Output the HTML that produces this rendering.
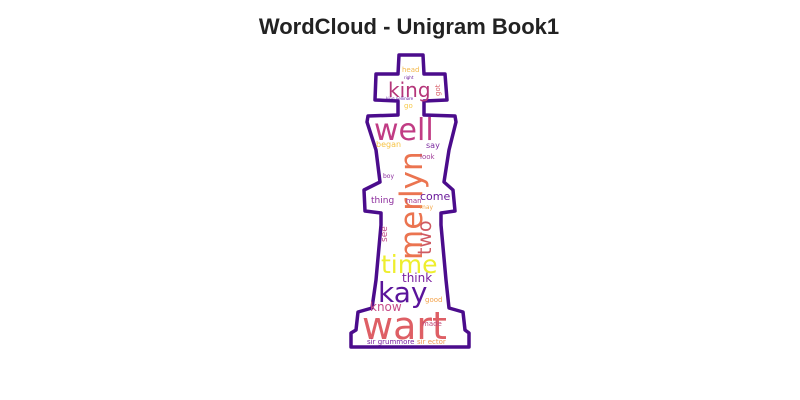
<!DOCTYPE html>
<html><head><meta charset="utf-8"><style>
html,body{margin:0;padding:0;background:#fff;width:800px;height:400px;overflow:hidden}
svg{display:block}
text{font-family:"DejaVu Sans","Liberation Sans",sans-serif}
</style></head><body>
<svg width="800" height="400" viewBox="0 0 800 400">
<text x="409" y="34" text-anchor="middle" font-weight="bold" font-size="22" fill="#222" style="font-family:'Liberation Sans',sans-serif">WordCloud - Unigram Book1</text>
<path fill="#fff" stroke="#4b0c8c" stroke-width="3.5" stroke-linejoin="round"
d="M399,55 L423,55 L424,74 L445,74 L447,100 L424,101 L424,115 L455,116 L456,122 L449,150 L444,182 L453,190 L455,211 L441,213 L441,225 L446,280 L449,308 L463,312 L465,330 L469,333 L469,347 L351,347 L351,333 L356,330 L358,312 L372,308 L376,280 L381,225 L381,213 L365,211 L364,190 L380,182 L376,150 L367,122 L368,116 L398,115 L398,101 L375,100 L376,74 L398,74 Z"/>
<g>
<text x="362" y="339" font-size="38" fill="#de5f65">wart</text>
<text x="378" y="302" font-size="28" fill="#5a149b">kay</text>
<text x="381" y="273" font-size="25" fill="#eeee2e">time</text>
<text transform="translate(422,260) rotate(-90)" font-size="31" fill="#eb7450">merlyn</text>
<text transform="translate(431,255) rotate(-90)" font-size="19" fill="#cf5a62">two</text>
<text x="374" y="140" font-size="30" fill="#c13c84">well</text>
<text x="388" y="97" font-size="20" fill="#b5367a">king</text>
<text x="402" y="282" font-size="12" fill="#7a1fa0">think</text>
<text x="370" y="311" font-size="12" fill="#c74d88">know</text>
<text x="425" y="302" font-size="7" fill="#f3a24a">good</text>
<text x="422" y="326" font-size="7" fill="#c04b7a">made</text>
<text x="420" y="200" font-size="11" fill="#6a1b9a">come</text>
<text x="371" y="203" font-size="9" fill="#8c2c9c">thing</text>
<text x="406" y="203" font-size="7" fill="#a0358e">man</text>
<text x="420" y="209" font-size="6" fill="#f4a84a">may</text>
<text x="426" y="148" font-size="8" fill="#7b2aa0">say</text>
<text x="420" y="159" font-size="7" fill="#a2409a">look</text>
<text x="376" y="147" font-size="8" fill="#f7c446">began</text>
<text x="383" y="178" font-size="6" fill="#8a2a9c">boy</text>
<text x="402" y="72" font-size="7" fill="#f3b84a">head</text>
<text x="404" y="108" font-size="7" fill="#f6c94a">go</text>
<text x="404" y="79" font-size="4" fill="#6a1b9a">right</text>
<text x="386" y="100" font-size="4" fill="#5a149b">king pellinore</text>
<text transform="translate(440,96) rotate(-90)" font-size="7" fill="#d8606a">got</text>
<text transform="translate(387,242) rotate(-90)" font-size="9" fill="#c04b88">see</text>
<text x="367" y="344" font-size="7" fill="#7a1fa0">sir grummore</text>
<text x="417" y="344" font-size="7" fill="#f09650">sir ector</text>
</g>
</svg>
</body></html>
